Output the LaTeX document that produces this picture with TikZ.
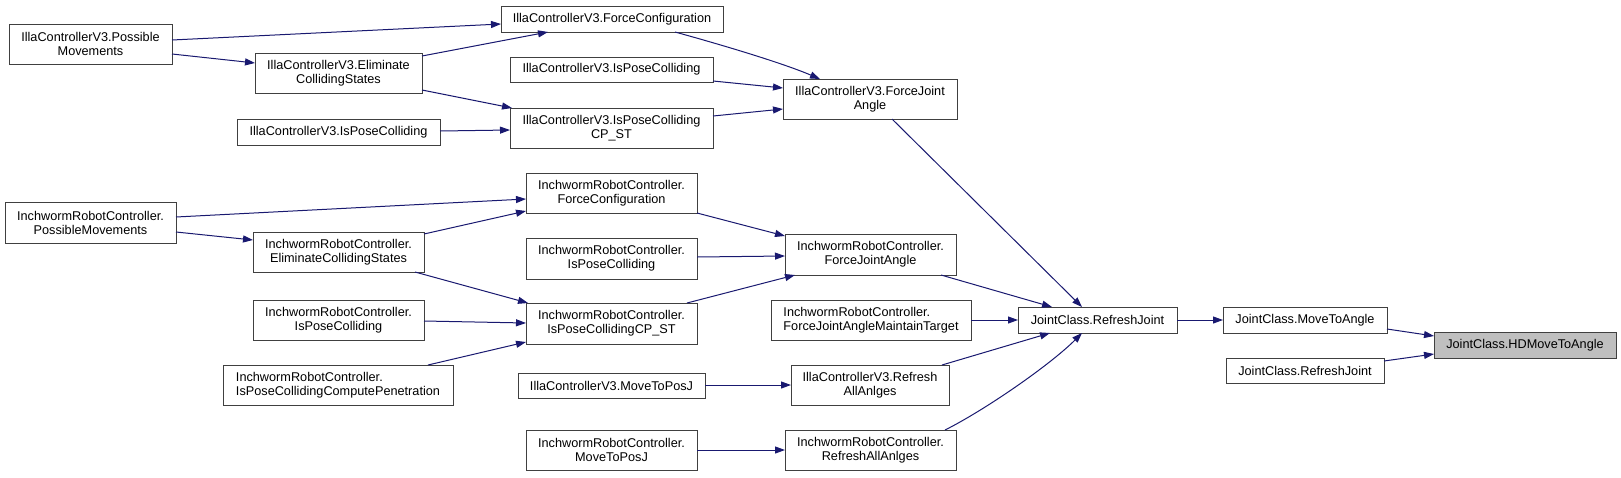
\documentclass[tikz,border=0pt]{standalone}
\usepackage{fontspec}
\setmainfont{Liberation Sans}
\usetikzlibrary{arrows.meta,calc}
\definecolor{edgeblue}{HTML}{191970}
\definecolor{boxline}{HTML}{404040}
\definecolor{hlfill}{HTML}{BFBFBF}
\tikzset{
  box/.style={draw=boxline, line width=1pt, fill=white, inner sep=0pt, outer sep=0pt,
    align=center, font=\fontsize{12.7}{14}\selectfont},
  lbox/.style={box, align=left},
  hlbox/.style={box, fill=hlfill},
  edge/.style={draw=edgeblue, line width=1pt, -{Triangle[length=10pt,width=7pt]}}
}
\newcommand\bx[7][box]{\node[#1, minimum width={(#5-#3)*1pt}, minimum height={(#6-#4)*1pt}] (#2) at ({(#3+#5)/2},{(#4+#6)/2}) {#7};}
\begin{document}
\begin{tikzpicture}[x=1pt,y=-1pt]
\useasboundingbox (0,0) rectangle (1621,477);
\fill[white] (0,0) rectangle (1621,477);
% nodes
\bx{ipm}{9}{24}{172}{64}{IllaControllerV3.Possible\\Movements}
\bx{iel}{255}{53}{422}{93}{IllaControllerV3.Eliminate\\CollidingStates}
\bx{iip1}{237}{119}{440}{145}{IllaControllerV3.IsPoseColliding}
\bx{ifc}{501}{6}{723}{32}{IllaControllerV3.ForceConfiguration}
\bx{iip2}{510}{57}{713}{82}{IllaControllerV3.IsPoseColliding}
\bx{icp}{510}{108}{713}{148}{IllaControllerV3.IsPoseColliding\\CP\_ST}
\bx{ifja}{783}{79}{957}{119}{IllaControllerV3.ForceJoint\\Angle}
\bx{npm}{5}{202}{176}{243}{InchwormRobotController.\\PossibleMovements}
\bx{nel}{253}{232}{424}{272}{InchwormRobotController.\\EliminateCollidingStates}
\bx{nip1}{253}{300}{424}{340}{InchwormRobotController.\\IsPoseColliding}
\bx[lbox]{ncpp}{223}{365}{453}{405}{InchwormRobotController.\\IsPoseCollidingComputePenetration}
\bx{nfc}{526}{173}{697}{213}{InchwormRobotController.\\ForceConfiguration}
\bx{nip2}{526}{238}{697}{279}{InchwormRobotController.\\IsPoseColliding}
\bx{ncp}{526}{303}{697}{344}{InchwormRobotController.\\IsPoseCollidingCP\_ST}
\bx{nfja}{785}{234}{956}{275}{InchwormRobotController.\\ForceJointAngle}
\bx[lbox]{nmt}{771}{300}{971}{340}{InchwormRobotController.\\ForceJointAngleMaintainTarget}
\bx{imp}{518}{373}{705}{398}{IllaControllerV3.MoveToPosJ}
\bx{irf}{791}{365}{949}{405}{IllaControllerV3.Refresh\\AllAnlges}
\bx{nmp}{526}{430}{697}{470}{InchwormRobotController.\\MoveToPosJ}
\bx{nrf}{785}{430}{956}{470}{InchwormRobotController.\\RefreshAllAnlges}
\bx{jrj}{1018}{307}{1177}{333}{JointClass.RefreshJoint}
\bx{mta}{1223}{307}{1387}{333}{JointClass.MoveToAngle}
\bx[hlbox]{hd}{1434}{332}{1616}{358}{JointClass.HDMoveToAngle}
\bx{rj2}{1226}{358}{1384}{383}{JointClass.RefreshJoint}
% edges
\draw[edge] (ipm.east |- 0,40) -- (ifc.west |- 0,24);
\draw[edge] (ipm.east |- 0,54) -- (iel.west |- 0,63);
\draw[edge] (iel.east |- 0,56) -- (ifc.south -| 548,0);
\draw[edge] (iel.east |- 0,90) -- (icp.north -| 512,0);
\draw[edge] (iip1.east |- 0,131) -- (icp.west |- 0,130);
\draw[edge] (ifc.south -| 675,0) .. controls (715,43) and (780,62) .. (ifja.north -| 820,0);
\draw[edge] (iip2.east |- 0,81) -- (ifja.west |- 0,88);
\draw[edge] (icp.east |- 0,116) -- (ifja.west |- 0,109);
\draw[edge] (ifja.south -| 892,0) -- (jrj.north -| 1082,0);
\draw[edge] (npm.east |- 0,217) -- (nfc.west |- 0,199);
\draw[edge] (npm.east |- 0,232) -- (nel.west |- 0,240);
\draw[edge] (nel.east |- 0,234) -- (nfc.west |- 0,211);
\draw[edge] (nel.south -| 415,0) -- (ncp.north -| 528,0);
\draw[edge] (nip1.east |- 0,321) -- (ncp.west |- 0,323);
\draw[edge] (ncpp.north -| 428,0) -- (ncp.west |- 0,342);
\draw[edge] (nfc.east |- 0,213) -- (nfja.west |- 0,236);
\draw[edge] (nip2.east |- 0,257) -- (nfja.west |- 0,256);
\draw[edge] (ncp.north -| 687,0) -- (nfja.south -| 795,0);
\draw[edge] (nfja.south -| 941,0) -- (jrj.north -| 1052,0);
\draw[edge] (nmt.east |- 0,320) -- (jrj.west |- 0,320);
\draw[edge] (irf.north -| 942,0) -- (jrj.south -| 1050,0);
\draw[edge] (nrf.north -| 945,0) .. controls (985,410) and (1050,365) .. (jrj.south -| 1082,0);
\draw[edge] (imp.east |- 0,385) -- (irf.west |- 0,385);
\draw[edge] (nmp.east |- 0,450) -- (nrf.west |- 0,450);
\draw[edge] (jrj.east |- 0,320) -- (mta.west |- 0,320);
\draw[edge] (mta.east |- 0,329) -- (hd.west |- 0,336);
\draw[edge] (rj2.east |- 0,361) -- (hd.west |- 0,354);
\end{tikzpicture}
\end{document}
